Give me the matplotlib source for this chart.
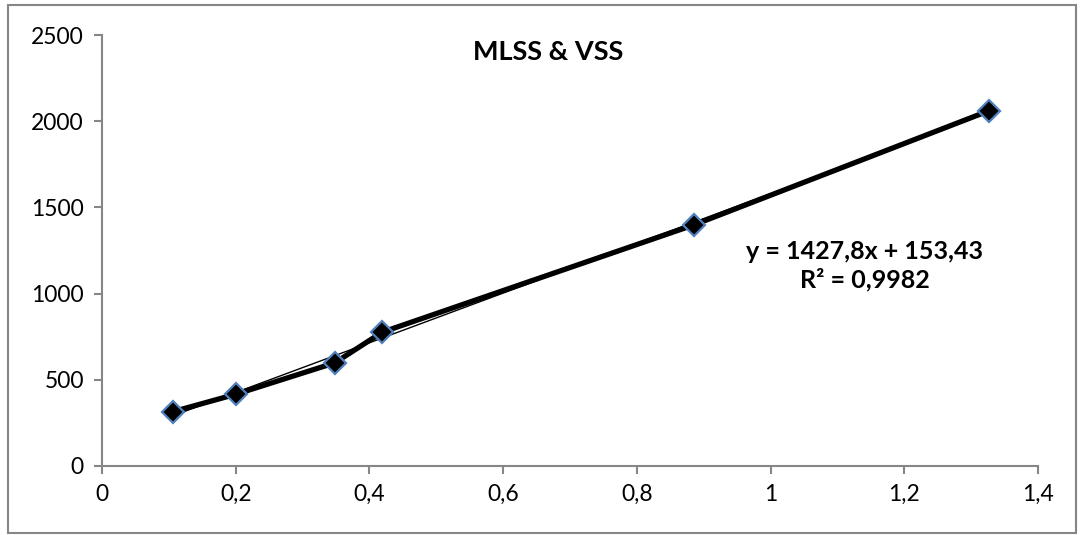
import numpy as np
import matplotlib
matplotlib.use('Agg')
from matplotlib import pyplot as plt
from matplotlib.patches import Rectangle

# Data
x_vals = [0.106, 0.200, 0.348, 0.419, 0.885, 1.327]
y_vals = [315, 416, 598, 776, 1398, 2061]
x_ticks = [0, 0.2, 0.4, 0.6, 0.8, 1.0, 1.2, 1.4]
x_labels = ['0', '0,2', '0,4', '0,6', '0,8', '1', '1,2', '1,4']
y_ticks = [0, 500, 1000, 1500, 2000, 2500]
title = 'MLSS & VSS'
eq_text = 'y = 1427,8x + 153,43\nR² = 0,9982'

plt.rcParams['font.family'] = ['Lato', 'DejaVu Sans']
grey = '#868686'

fig = plt.figure(figsize=(10.82, 5.35), dpi=100)
fig.patches.append(Rectangle((8 / 1082, 2 / 535), 1068 / 1082, 528 / 535,
                             transform=fig.transFigure, fill=False,
                             edgecolor=grey, linewidth=1.5))

ax = fig.add_axes([102 / 1082, 1 - 466 / 535, 936 / 1082, 431 / 535])

# linear trendline (thin)
coef = np.polyfit(x_vals, y_vals, 1)
xt = np.array([min(x_vals), max(x_vals)])
ax.plot(xt, np.polyval(coef, xt), color='black', lw=1.0, zorder=2)

# data series
ax.plot(x_vals, y_vals, color='black', lw=3.8, marker='D', markersize=11,
        markerfacecolor='black', markeredgecolor='#4F81BD', markeredgewidth=1.6,
        zorder=3)

ax.set_xlim(0, 1.4)
ax.set_ylim(0, 2500)
ax.set_xticks(x_ticks)
ax.set_xticklabels(x_labels)
ax.set_yticks(y_ticks)

for s in ['top', 'right']:
    ax.spines[s].set_visible(False)
for s in ['left', 'bottom']:
    ax.spines[s].set_color(grey)
    ax.spines[s].set_linewidth(1.5)
ax.tick_params(direction='out', length=6, width=1.5, color=grey,
               labelsize=16.5, pad=7)

ax.text(0.477, 0.96, title, transform=ax.transAxes, ha='center', va='center',
        fontsize=19.5, fontweight='bold')
ax.text(0.815, 0.464, eq_text, transform=ax.transAxes, ha='center', va='center',
        fontsize=18, fontweight='bold', linespacing=1.25)

fig.savefig('out.png', dpi=100)
